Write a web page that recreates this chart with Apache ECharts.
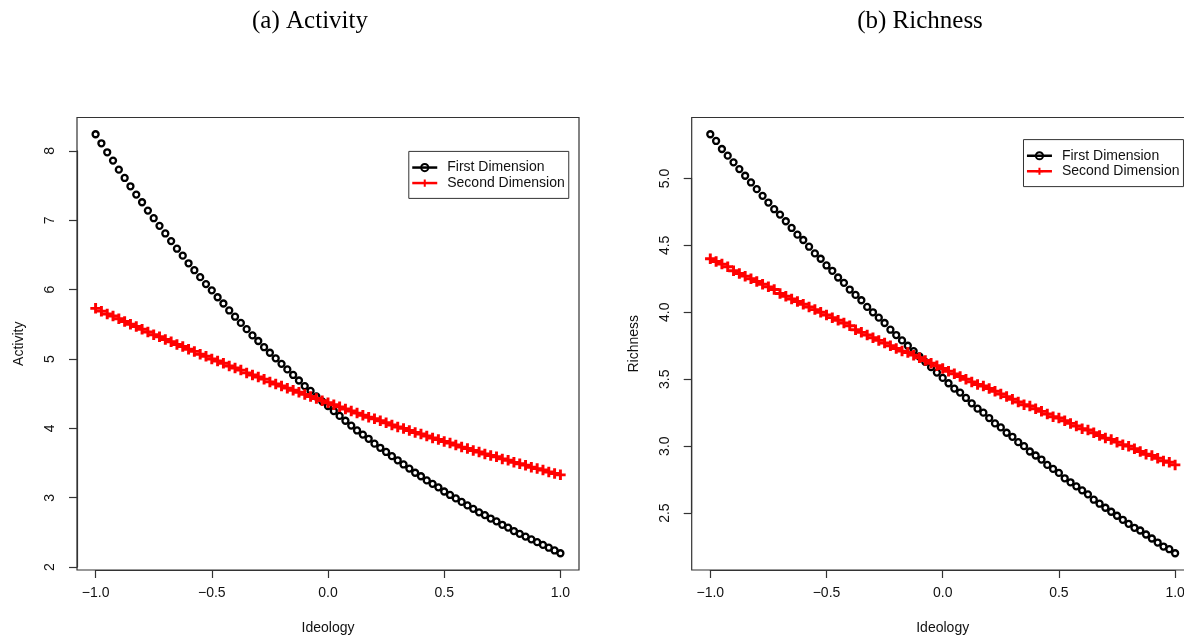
<!DOCTYPE html>
<html>
<head>
<meta charset="utf-8">
<script src="https://cdn.jsdelivr.net/npm/echarts@6/dist/echarts.min.js"></script>
<style>
html,body{margin:0;padding:0;background:#fff;}
#chart{width:1184px;height:636px;}
</style>
</head>
<body>
<div id="chart"></div>
<script>
// ---------- data ----------
const ideology = [-1, -0.975, -0.95, -0.925, -0.9, -0.875, -0.85, -0.825, -0.8, -0.775,
  -0.75, -0.725, -0.7, -0.675, -0.65, -0.625, -0.6, -0.575, -0.55, -0.525,
  -0.5, -0.475, -0.45, -0.425, -0.4, -0.375, -0.35, -0.325, -0.3, -0.275,
  -0.25, -0.225, -0.2, -0.175, -0.15, -0.125, -0.1, -0.075, -0.05, -0.025,
  0, 0.025, 0.05, 0.075, 0.1, 0.125, 0.15, 0.175, 0.2, 0.225,
  0.25, 0.275, 0.3, 0.325, 0.35, 0.375, 0.4, 0.425, 0.45, 0.475,
  0.5, 0.525, 0.55, 0.575, 0.6, 0.625, 0.65, 0.675, 0.7, 0.725,
  0.75, 0.775, 0.8, 0.825, 0.85, 0.875, 0.9, 0.925, 0.95, 0.975, 1];

const activityFirst = [8.24, 8.11, 7.98, 7.86, 7.73, 7.61, 7.49, 7.37, 7.26, 7.14,
  7.03, 6.92, 6.81, 6.70, 6.59, 6.49, 6.38, 6.28, 6.18, 6.08,
  5.99, 5.89, 5.80, 5.70, 5.61, 5.52, 5.43, 5.34, 5.26, 5.17,
  5.09, 5.01, 4.93, 4.85, 4.77, 4.69, 4.61, 4.54, 4.46, 4.39,
  4.32, 4.25, 4.18, 4.11, 4.04, 3.97, 3.91, 3.85, 3.78, 3.72,
  3.66, 3.60, 3.54, 3.48, 3.42, 3.36, 3.31, 3.25, 3.20, 3.15,
  3.09, 3.04, 2.99, 2.94, 2.89, 2.84, 2.79, 2.75, 2.70, 2.66,
  2.61, 2.57, 2.52, 2.48, 2.44, 2.40, 2.36, 2.32, 2.28, 2.24, 2.20];

const activitySecond = [5.73, 5.69, 5.65, 5.62, 5.58, 5.54, 5.50, 5.47, 5.43, 5.39,
  5.35, 5.32, 5.28, 5.25, 5.21, 5.18, 5.14, 5.11, 5.07, 5.04,
  5.00, 4.97, 4.94, 4.90, 4.87, 4.84, 4.80, 4.77, 4.74, 4.71,
  4.67, 4.64, 4.61, 4.58, 4.55, 4.52, 4.49, 4.46, 4.43, 4.40,
  4.37, 4.34, 4.31, 4.28, 4.25, 4.22, 4.19, 4.16, 4.14, 4.11,
  4.08, 4.05, 4.02, 4.00, 3.97, 3.94, 3.92, 3.89, 3.86, 3.84,
  3.81, 3.79, 3.76, 3.73, 3.71, 3.68, 3.66, 3.63, 3.61, 3.59,
  3.56, 3.54, 3.51, 3.49, 3.47, 3.44, 3.42, 3.40, 3.37, 3.35, 3.33];

const richnessFirst = [5.33, 5.28, 5.22, 5.17, 5.12, 5.07, 5.02, 4.97, 4.92, 4.87,
  4.82, 4.77, 4.73, 4.68, 4.63, 4.58, 4.54, 4.49, 4.44, 4.40,
  4.35, 4.31, 4.26, 4.22, 4.17, 4.13, 4.09, 4.04, 4.00, 3.96,
  3.92, 3.87, 3.83, 3.79, 3.75, 3.71, 3.67, 3.63, 3.59, 3.55,
  3.51, 3.47, 3.43, 3.40, 3.36, 3.32, 3.28, 3.25, 3.21, 3.17,
  3.14, 3.10, 3.07, 3.03, 3.00, 2.96, 2.93, 2.90, 2.86, 2.83,
  2.80, 2.76, 2.73, 2.70, 2.67, 2.64, 2.60, 2.57, 2.54, 2.51,
  2.48, 2.45, 2.42, 2.39, 2.37, 2.34, 2.31, 2.28, 2.25, 2.23, 2.20];

const richnessSecond = [4.40, 4.38, 4.36, 4.34, 4.31, 4.29, 4.27, 4.25, 4.23, 4.21,
  4.19, 4.17, 4.14, 4.12, 4.10, 4.08, 4.06, 4.04, 4.02, 4.00,
  3.98, 3.96, 3.94, 3.92, 3.90, 3.87, 3.85, 3.83, 3.81, 3.79,
  3.77, 3.75, 3.73, 3.71, 3.70, 3.68, 3.66, 3.64, 3.62, 3.60,
  3.58, 3.56, 3.54, 3.52, 3.50, 3.48, 3.46, 3.45, 3.43, 3.41,
  3.39, 3.37, 3.35, 3.33, 3.31, 3.30, 3.28, 3.26, 3.24, 3.22,
  3.21, 3.19, 3.17, 3.15, 3.13, 3.12, 3.10, 3.08, 3.06, 3.05,
  3.03, 3.01, 3.00, 2.98, 2.96, 2.94, 2.93, 2.91, 2.89, 2.88, 2.86];

const ideologyTicks = [-1, -0.5, 0, 0.5, 1];
const activityTicks = [2, 3, 4, 5, 6, 7, 8];
const richnessTicks = [2.5, 3.0, 3.5, 4.0, 4.5, 5.0];

const seriesNames = ['First Dimension', 'Second Dimension'];
const panelTitles = ['(a) Activity', '(b) Richness'];
const yNames = ['Activity', 'Richness'];
const xName = 'Ideology';

// ---------- layout helpers ----------
const SANS = '"Liberation Sans", Arial, sans-serif';
const TEXT = '#111';
const AXIS = '#333';
const PLUS = 'path://M3.6,0H6.4V3.6H10V6.4H6.4V10H3.6V6.4H0V3.6H3.6Z';

function padRange(vals) {
  const lo = Math.min.apply(null, vals), hi = Math.max.apply(null, vals);
  const r = (hi - lo) * 0.04;
  return [lo - r, hi + r];
}

function makePanel(idx, box, yTicks, yFmt, ys) {
  const xr = padRange(ideology);
  const yr = padRange(ys[0].concat(ys[1]));
  const W = box.width, H = box.height;
  const xt0 = ideologyTicks[0], xt1 = ideologyTicks[ideologyTicks.length - 1];
  const yt0 = yTicks[0], yt1 = yTicks[yTicks.length - 1];
  const tick = {
    left: box.left + (xt0 - xr[0]) / (xr[1] - xr[0]) * W,
    width: (xt1 - xt0) / (xr[1] - xr[0]) * W,
    top: box.top + (yr[1] - yt1) / (yr[1] - yr[0]) * H,
    height: (yt1 - yt0) / (yr[1] - yr[0]) * H
  };
  const xOffset = (box.top + H) - (tick.top + tick.height);
  const yOffset = tick.left - box.left;
  const gBox = 2 * idx, gTick = 2 * idx + 1;
  return {
    grids: [
      {left: box.left, top: box.top, width: W, height: H, show: true, borderColor: AXIS, borderWidth: 1.2, backgroundColor: 'transparent', containLabel: false, outerBoundsMode: 'none'},
      {left: tick.left, top: tick.top, width: tick.width, height: tick.height, show: false, containLabel: false, outerBoundsMode: 'none'}
    ],
    xAxes: [
      {type: 'value', gridIndex: gBox, min: xr[0], max: xr[1],
       axisLine: {show: false, onZero: false}, axisTick: {show: false}, axisLabel: {show: false}, splitLine: {show: false},
       name: xName, nameLocation: 'middle', nameGap: 51,
       nameTextStyle: {fontFamily: SANS, fontSize: 14, color: TEXT}},
      {type: 'value', gridIndex: gTick, min: xt0, max: xt1, interval: ideologyTicks[1] - ideologyTicks[0],
       position: 'bottom', offset: xOffset,
       axisLine: {show: true, onZero: false, lineStyle: {color: AXIS, width: 1.2}},
       axisTick: {show: true, length: 8, lineStyle: {color: AXIS, width: 1.2}},
       axisLabel: {show: true, margin: 16, fontFamily: SANS, fontSize: 14, color: TEXT,
         formatter: v => (v < 0 ? '\u2212' : '') + Math.abs(v).toFixed(1)},
       splitLine: {show: false}}
    ],
    yAxes: [
      {type: 'value', gridIndex: gBox, min: yr[0], max: yr[1],
       axisLine: {show: false, onZero: false}, axisTick: {show: false}, axisLabel: {show: false}, splitLine: {show: false},
       name: yNames[idx], nameLocation: 'middle', nameGap: 51,
       nameTextStyle: {fontFamily: SANS, fontSize: 14, color: TEXT}},
      {type: 'value', gridIndex: gTick, min: yt0, max: yt1, interval: yTicks[1] - yTicks[0],
       position: 'left', offset: yOffset,
       axisLine: {show: true, onZero: false, lineStyle: {color: AXIS, width: 1.2}},
       axisTick: {show: true, length: 8, lineStyle: {color: AXIS, width: 1.2}},
       axisLabel: {show: true, rotate: 90, margin: 20, fontFamily: SANS, fontSize: 14, color: TEXT,
         formatter: yFmt},
       splitLine: {show: false}}
    ],
    series: [
      {type: 'line', name: seriesNames[0], xAxisIndex: gBox, yAxisIndex: gBox,
       data: ideology.map((x, i) => [x, ys[0][i]]),
       symbol: 'circle', symbolSize: 6, showSymbol: true, showAllSymbol: true,
       lineStyle: {opacity: 0, width: 0}, clip: false,
       itemStyle: {color: 'rgba(0,0,0,0)', borderColor: '#000', borderWidth: 2.3},
       emphasis: {disabled: true}, z: 2},
      {type: 'line', name: seriesNames[1], xAxisIndex: gBox, yAxisIndex: gBox,
       data: ideology.map((x, i) => [x, ys[1][i]]),
       symbol: PLUS, symbolSize: 10.5, showSymbol: true, showAllSymbol: true,
       lineStyle: {opacity: 0, width: 0}, clip: false,
       itemStyle: {color: '#ff0000', borderWidth: 0},
       emphasis: {disabled: true}, z: 3}
    ]
  };
}

const BOX_TOP = 117.5, BOX_H = 452.5, BOX_W = 502;
const left = makePanel(0, {left: 77, top: BOX_TOP, width: BOX_W, height: BOX_H},
  activityTicks, v => String(v), [activityFirst, activitySecond]);
const right = makePanel(1, {left: 691.7, top: BOX_TOP, width: BOX_W, height: BOX_H},
  richnessTicks, v => v.toFixed(1), [richnessFirst, richnessSecond]);

function legendAt(l, t) {
  return {
    left: l, top: t, orient: 'vertical', selectedMode: false,
    padding: [8.4, 4, 7.6, 2.2], itemGap: 0, itemWidth: 25, itemHeight: 9,
    borderColor: AXIS, borderWidth: 1, backgroundColor: '#fff',
    textStyle: {fontFamily: SANS, fontSize: 14, color: TEXT, lineHeight: 15.5, padding: [0, 0, 0, 5]},
    data: [
      {name: seriesNames[0], itemStyle: {color: 'rgba(0,0,0,0)', borderColor: '#000', borderWidth: 2},
       lineStyle: {color: '#000', width: 2.5, opacity: 1}},
      {name: seriesNames[1], itemStyle: {color: '#ff0000'},
       lineStyle: {color: '#ff0000', width: 2.5, opacity: 1}}
    ]
  };
}

const titleStyle = {fontFamily: '"Liberation Serif", "Times New Roman", serif', fontSize: 25, fontWeight: 'normal', color: '#000'};

const option = {
  animation: false,
  backgroundColor: '#fff',
  title: [
    {text: panelTitles[0], left: 310, top: 9, textAlign: 'center', padding: 0, textStyle: titleStyle},
    {text: panelTitles[1], left: 920, top: 9, textAlign: 'center', padding: 0, textStyle: titleStyle}
  ],
  legend: [legendAt(408.8, 151.4), legendAt(1023.5, 139.6)],
  grid: left.grids.concat(right.grids),
  xAxis: left.xAxes.concat(right.xAxes),
  yAxis: left.yAxes.concat(right.yAxes),
  series: left.series.concat(right.series)
};

const chart = echarts.init(document.getElementById('chart'), null, {renderer: 'canvas'});
chart.setOption(option);
</script>
</body>
</html>
